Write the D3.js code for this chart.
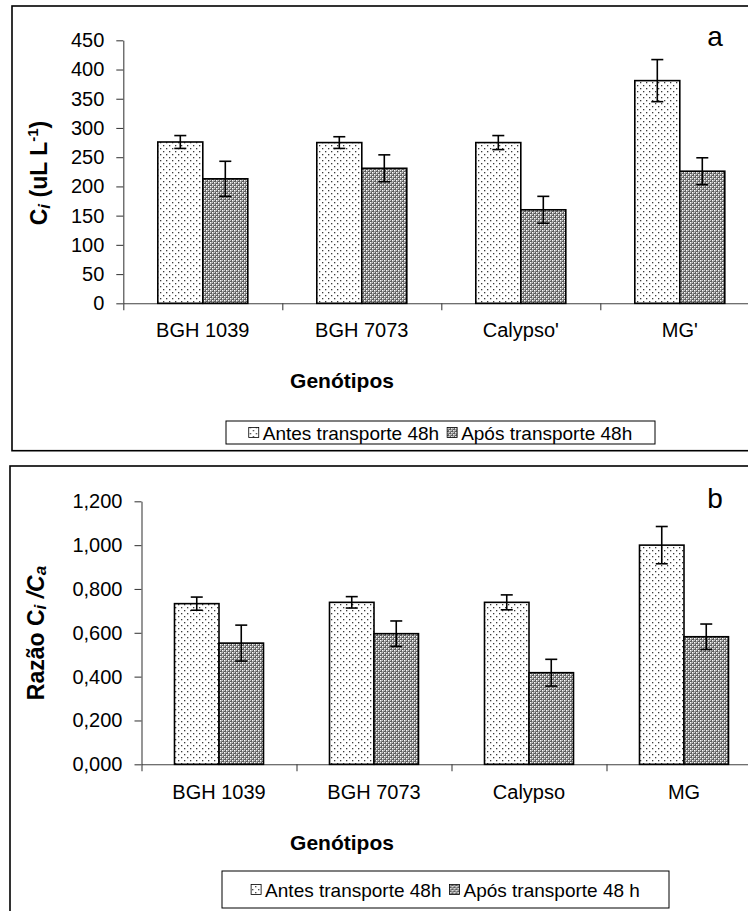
<!DOCTYPE html>
<html>
<head>
<meta charset="utf-8">
<script src="https://cdn.jsdelivr.net/npm/d3@7"></script>
<style>
  html, body { margin: 0; padding: 0; background: #fff; overflow: hidden; }
  svg { display: block; font-family: "Liberation Sans", Arial, Helvetica, sans-serif; }
</style>
</head>
<body>
<svg id="chart" width="748" height="911"></svg>
<script>
// ---- data -------------------------------------------------------------
const genotypesA = ["BGH 1039", "BGH 7073", "Calypso'", "MG'"];
const genotypesB = ["BGH 1039", "BGH 7073", "Calypso", "MG"];
const seriesNamesA = ["Antes transporte 48h", "Após transporte 48h"];
const seriesNamesB = ["Antes transporte 48h", "Após transporte 48 h"];

// internal CO2 concentration (uL L-1)
const ciBefore    = [276, 275, 275, 381];
const ciBeforeErr = [11, 10, 12, 36];
const ciAfter     = [213, 231, 160, 226];
const ciAfterErr  = [30, 23, 23, 23];

// Ci/Ca ratio
const ratioBefore    = [0.733, 0.739, 0.739, 1.000];
const ratioBeforeErr = [0.030, 0.026, 0.034, 0.085];
const ratioAfter     = [0.553, 0.596, 0.418, 0.582];
const ratioAfterErr  = [0.082, 0.058, 0.061, 0.058];

const ticksA = [0, 50, 100, 150, 200, 250, 300, 350, 400, 450];
const tickLabelsA = ["0", "50", "100", "150", "200", "250", "300", "350", "400", "450"];
const ticksB = [0, 0.2, 0.4, 0.6, 0.8, 1.0, 1.2];
const tickLabelsB = ["0,000", "0,200", "0,400", "0,600", "0,800", "1,000", "1,200"];

// ---- drawing ----------------------------------------------------------
const svg = d3.select("#chart");
const defs = svg.append("defs");

// fine dot fill for the "before" series
const pDots = defs.append("pattern").attr("id", "dots")
  .attr("patternUnits", "userSpaceOnUse").attr("width", 6).attr("height", 6);
pDots.append("rect").attr("width", 6).attr("height", 6).attr("fill", "#fff");
pDots.append("rect").attr("x", 1).attr("y", 1).attr("width", 1.3).attr("height", 1.3).attr("fill", "#3a3a3a");
pDots.append("rect").attr("x", 4).attr("y", 4).attr("width", 1.3).attr("height", 1.3).attr("fill", "#3a3a3a");

// diamond lattice for the "after" series
const pHatch = defs.append("pattern").attr("id", "hatch")
  .attr("patternUnits", "userSpaceOnUse").attr("width", 4).attr("height", 4);
pHatch.append("rect").attr("width", 4).attr("height", 4).attr("fill", "#5c5c5c");
pHatch.append("rect").attr("x", 0).attr("y", 0).attr("width", 1.5).attr("height", 1.5).attr("fill", "#ffffff");
pHatch.append("rect").attr("x", 2).attr("y", 2).attr("width", 1.5).attr("height", 1.5).attr("fill", "#ffffff");
pHatch.append("rect").attr("x", 2).attr("y", 0).attr("width", 1).attr("height", 1).attr("fill", "#c8c8c8");
pHatch.append("rect").attr("x", 0).attr("y", 2).attr("width", 1).attr("height", 1).attr("fill", "#c8c8c8");

const fills = ["url(#dots)", "url(#hatch)"];

function drawPanel(cfg) {
  const g = svg.append("g");

  g.append("rect")
    .attr("x", cfg.frame[0]).attr("y", cfg.frame[1])
    .attr("width", cfg.frame[2]).attr("height", cfg.frame[3])
    .attr("fill", "#fff").attr("stroke", "#000").attr("stroke-width", 1.6);

  const y = d3.scaleLinear().domain([0, cfg.yMax]).range([cfg.y0, cfg.yTop]);
  const x = d3.scaleBand().domain(cfg.cats).range([cfg.left, cfg.right]).padding(0);
  const pad = 1 / cfg.groupFrac - 1;
  const x1 = d3.scaleBand().domain([0, 1]).range([0, x.bandwidth()])
    .paddingInner(0).paddingOuter(pad);

  // y axis
  const yAxis = d3.axisLeft(y)
    .tickValues(cfg.ticks)
    .tickFormat((d, i) => cfg.tickLabels[i])
    .tickSize(7).tickSizeOuter(0).tickPadding(12);
  const ya = g.append("g").attr("transform", `translate(${cfg.left},0)`).call(yAxis);
  ya.selectAll("path, line").attr("stroke", "#404040").attr("stroke-width", 1.1);
  ya.selectAll("text").attr("font-size", 20).attr("fill", "#000")
    .attr("font-family", "'Liberation Sans', Arial, sans-serif");

  // x axis with ticks between categories
  const xb = d3.scaleLinear().domain([0, cfg.cats.length]).range([cfg.left, cfg.right]);
  const xAxis = d3.axisBottom(xb)
    .tickValues(d3.range(cfg.cats.length + 1))
    .tickFormat("").tickSize(7).tickSizeOuter(0);
  const xa = g.append("g").attr("transform", `translate(0,${cfg.y0})`).call(xAxis);
  xa.selectAll("path, line").attr("stroke", "#404040").attr("stroke-width", 1.1);

  // category labels
  g.append("g").selectAll("text").data(cfg.cats).join("text")
    .attr("x", d => x(d) + x.bandwidth() / 2)
    .attr("y", cfg.catY)
    .attr("text-anchor", "middle")
    .attr("font-size", 20)
    .text(d => d);

  // bars
  cfg.series.forEach((s, si) => {
    g.append("g").selectAll("rect").data(s.values).join("rect")
      .attr("x", (d, i) => x(cfg.cats[i]) + x1(si))
      .attr("y", d => y(d))
      .attr("width", x1.bandwidth())
      .attr("height", d => y(0) - y(d))
      .attr("fill", fills[si])
      .attr("stroke", "#000").attr("stroke-width", 1.6);
  });

  // error bars
  cfg.series.forEach((s, si) => {
    const eg = g.append("g").attr("stroke", "#000").attr("stroke-width", 1.6);
    s.values.forEach((v, i) => {
      const cx = x(cfg.cats[i]) + x1(si) + x1.bandwidth() / 2;
      const lo = y(v - s.err[i]), hi = y(v + s.err[i]);
      eg.append("line").attr("x1", cx).attr("x2", cx).attr("y1", lo).attr("y2", hi);
      eg.append("line").attr("x1", cx - 6).attr("x2", cx + 6).attr("y1", lo).attr("y2", lo);
      eg.append("line").attr("x1", cx - 6).attr("x2", cx + 6).attr("y1", hi).attr("y2", hi);
    });
  });

  // x title
  g.append("text")
    .attr("x", cfg.xTitlePos[0]).attr("y", cfg.xTitlePos[1])
    .attr("text-anchor", "middle").attr("font-size", 21).attr("font-weight", "bold")
    .text("Genótipos");

  // y title
  const yt = g.append("text")
    .attr("transform", `translate(${cfg.yTitlePos[0]},${cfg.yTitlePos[1]}) rotate(-90)`)
    .attr("text-anchor", "middle").attr("font-size", 23).attr("font-weight", "bold");
  cfg.yTitle(yt);

  // panel letter
  g.append("text")
    .attr("x", cfg.letterPos[0]).attr("y", cfg.letterPos[1])
    .attr("text-anchor", "middle").attr("font-size", 28)
    .text(cfg.letter);

  // legend
  const lg = g.append("g");
  lg.append("rect")
    .attr("x", cfg.legend[0]).attr("y", cfg.legend[1])
    .attr("width", cfg.legend[2]).attr("height", cfg.legend[3])
    .attr("fill", "#fff").attr("stroke", "#000").attr("stroke-width", 1);
  const midY = cfg.legend[1] + cfg.legend[3] / 2;
  const items = cfg.seriesNames.map((name, si) => {
    const it = lg.append("g");
    it.append("rect").attr("width", 10).attr("height", 10)
      .attr("y", midY - 5)
      .attr("fill", fills[si]).attr("stroke", "#000").attr("stroke-width", 0.8);
    const t = it.append("text").attr("x", 14).attr("y", midY + 7)
      .attr("font-size", 19).text(name);
    return { it, w: 14 + t.node().getComputedTextLength() };
  });
  const gap = 8;
  const total = d3.sum(items, d => d.w) + gap * (items.length - 1);
  let cx = cfg.legend[0] + (cfg.legend[2] - total) / 2;
  items.forEach(d => {
    d.it.attr("transform", `translate(${cx},0)`);
    cx += d.w + gap;
  });
}

drawPanel({
  frame: [12, 6, 770, 444.7],
  cats: genotypesA,
  series: [
    { values: ciBefore, err: ciBeforeErr },
    { values: ciAfter, err: ciAfterErr }
  ],
  seriesNames: seriesNamesA,
  yMax: 450, ticks: ticksA, tickLabels: tickLabelsA,
  left: 123.3, right: 759.3, y0: 303.3, yTop: 40.3,
  groupFrac: 90 / 159,
  catY: 337,
  xTitlePos: [342, 388],
  yTitlePos: [47, 173],
  yTitle: t => {
    t.append("tspan").text("C");
    t.append("tspan").attr("font-style", "italic").attr("font-size", 17).attr("dy", 3).text("i");
    t.append("tspan").attr("dy", -3).text(" (uL L");
    t.append("tspan").attr("font-size", 15).attr("dy", -9).text("-1");
    t.append("tspan").attr("dy", 9).text(")");
  },
  letter: "a", letterPos: [715, 46],
  legend: [226, 421, 429, 23]
});

drawPanel({
  frame: [10, 466, 772, 448],
  cats: genotypesB,
  series: [
    { values: ratioBefore, err: ratioBeforeErr },
    { values: ratioAfter, err: ratioAfterErr }
  ],
  seriesNames: seriesNamesB,
  yMax: 1.2, ticks: ticksB, tickLabels: tickLabelsB,
  left: 141.5, right: 761.5, y0: 764.3, yTop: 501.3,
  groupFrac: 89 / 155,
  catY: 799,
  xTitlePos: [342, 850],
  yTitlePos: [44, 633],
  yTitle: t => {
    t.append("tspan").text("Razão C");
    t.append("tspan").attr("font-style", "italic").attr("font-size", 17).attr("dy", 2).text("i");
    t.append("tspan").attr("font-style", "italic").attr("dy", -2).text(" /C");
    t.append("tspan").attr("font-style", "italic").attr("font-size", 17).attr("dy", 2).text("a");
  },
  letter: "b", letterPos: [715, 508],
  legend: [222, 871, 447, 37]
});
</script>
</body>
</html>
